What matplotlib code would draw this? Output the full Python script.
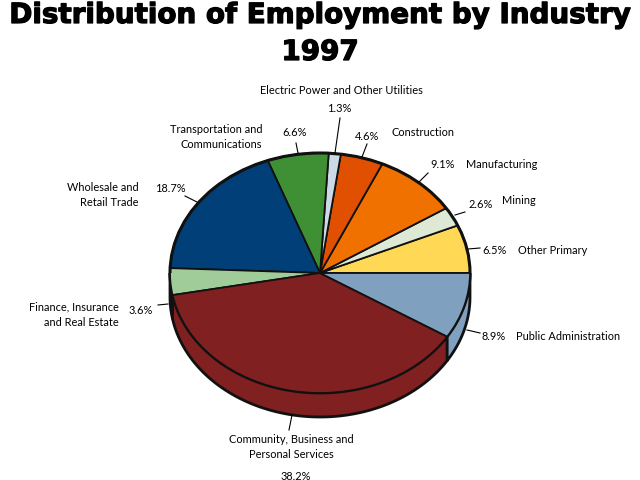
import numpy as np
import matplotlib
matplotlib.use("Agg")
import matplotlib.pyplot as plt
import matplotlib.patheffects as pe
from matplotlib.patches import Polygon, Arc

# anticlockwise from 3 o'clock
names = ["Other Primary", "Mining", "Manufacturing", "Construction",
         "Electric Power and Other Utilities", "Transportation and\nCommunications",
         "Wholesale and\nRetail Trade", "Finance, Insurance\nand Real Estate",
         "Community, Business and\nPersonal Services", "Public Administration"]
shares = [6.5, 2.6, 9.1, 4.6, 1.3, 6.6, 18.7, 3.6, 38.2, 8.9]
colors = ["#ffd955", "#dde8d5", "#f07000", "#e05000", "#ccd9e6",
          "#3f8f35", "#003f78", "#a0cc99", "#802020", "#80a0bf"]
title_lines = ["Distribution of Employment by Industry", "1997"]

plt.rcParams["font.family"] = ["Lato", "DejaVu Sans"]
DEPTH = 0.2  # rim height in pie radii
fig = plt.figure(figsize=(6.4, 4.8), dpi=100)

# pie axes: the circle is squashed to 150 x 120 px by the non-equal aspect
ax = fig.add_axes([0, 0, 1, 1])
wedges, _ = ax.pie(shares, colors=colors, startangle=0, counterclock=True, normalize=True,
                   wedgeprops={"edgecolor": "#111111", "linewidth": 1.3, "zorder": 3})
ax.set_aspect("auto")
ax.set_xlim(-320 / 150, 320 / 150)
ax.set_ylim(-(480 - 273) / 120, 273 / 120)
ax.axis("off")
# back edge is drawn heavier than the slice lines
ax.add_patch(Arc((0, 0), 2, 2, theta1=0, theta2=180, edgecolor="#111111", linewidth=2.2, zorder=4))

# rim below the front edge, one piece per visible wedge
for w in wedges:
    a1, a2 = max(w.theta1, 180), w.theta2
    if a2 <= 180:
        continue
    t = np.radians(np.linspace(a1, a2, 80))
    x, y = np.cos(t), np.sin(t)
    pts = np.r_[np.c_[x, y], np.c_[x, y - DEPTH][::-1]]
    ax.add_patch(Polygon(pts, closed=True, facecolor=w.get_facecolor(), edgecolor="#111111",
                         linewidth=2.0, zorder=2))

# overlay in pixel coordinates for labels and leaders
ov = fig.add_axes([0, 0, 1, 1], facecolor="none")
ov.set_xlim(0, 640)
ov.set_ylim(480, 0)
ov.axis("off")

name_pos = [(518, 250, "left"), (502, 201, "left"), (466, 165, "left"), (391, 133, "left"),
            (341, 90, "center"), (262, 137, "right"), (139, 195, "right"),
            (119, 315, "right"), (291, 447, "center"), (516, 337, "left")]
pct_pos = [(495, 250), (481, 204), (443, 165), (367, 136), (339, 108),
           (295, 133), (170, 188), (141, 310), (296, 476), (494, 337)]
leaders = [((480, 248), (468, 249)), ((465, 212), (455, 215)), ((428, 173), (419, 182)),
           ((367, 144), (362, 157)), ((340, 118), (335, 153)), ((296, 143), (298, 153)),
           ((185, 196), (197, 202)), ((158, 305), (168, 304)), ((292, 415), (289, 430)),
           ((467, 330), (480, 333))]
FS = 7.9
for nm, (x, y, ha), v, (px, py), (p0, p1) in zip(names, name_pos, shares, pct_pos, leaders):
    ov.text(x, y, nm, ha=ha, va="center", fontsize=FS, color="black", linespacing=1.5)
    ov.text(px, py, f"{v}%", ha="center", va="center", fontsize=FS, color="black")
    ov.plot([p0[0], p1[0]], [p0[1], p1[1]], color="black", lw=0.8)

for line, y in zip(title_lines, [15, 52]):
    ov.text(320, y, line, ha="center", va="center", fontsize=20, fontweight="bold",
            family="DejaVu Sans", color="black",
            path_effects=[pe.withStroke(linewidth=0.9, foreground="black")])

fig.savefig("out.png", dpi=100)
